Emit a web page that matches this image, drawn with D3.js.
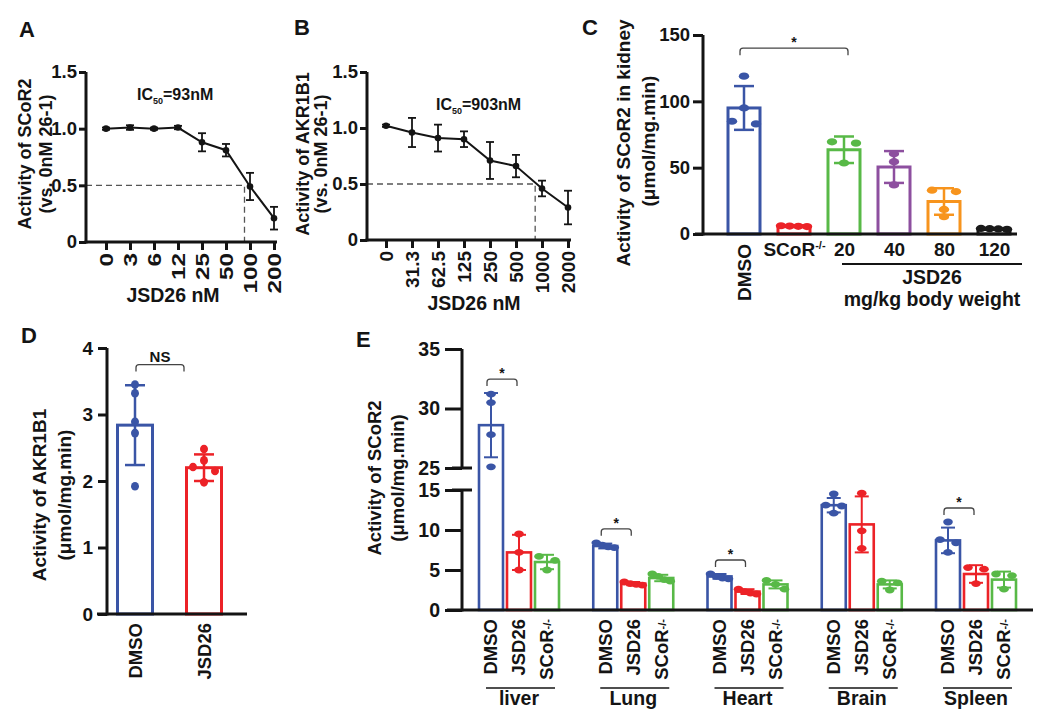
<!DOCTYPE html>
<html><head><meta charset="utf-8">
<script src="https://cdn.jsdelivr.net/npm/d3@7"></script>
<style>
body{margin:0;background:#fff;}
svg text{font-family:"Liberation Sans",Arial,Helvetica,sans-serif;font-weight:bold;}
</style></head><body>
<svg id="fig" width="1050" height="722"></svg>
<script>
// ---------- DATA ----------
// Panel A
const aDoses = ["0","3","6","12","25","50","100","200"];
const aMean  = [1.00,1.01,1.00,1.01,0.88,0.81,0.49,0.21];
const aErr   = [0.01,0.02,0.01,0.015,0.08,0.055,0.12,0.10];
const aIC50  = 93;
// Panel B
const bDoses = ["0","31.3","62.5","125","250","500","1000","2000"];
const bMean  = [1.02,0.96,0.91,0.90,0.71,0.66,0.46,0.29];
const bErr   = [0.01,0.13,0.12,0.07,0.165,0.10,0.07,0.15];
const bIC50  = 903;
const abTicks = [0,0.5,1.0,1.5];
// Panel C
const cGroups = ["DMSO","SCoR-/-","20","40","80","120"];
const cMean   = [95,5.9,63.5,50.5,24.5,3.6];
const cSD     = [16.5,0.5,10,12,10,0.4];
const cPoints = [[119,95,83,85],[6.2,6.0,5.6,5.8],[69.5,68.5,53.5],[60.5,54.5,37],[33,32,18.5,13],[4.0,4.2,3.5,3.8]];
const cTicks  = [0,50,100,150];
// Panel D
const dGroups = ["DMSO","JSD26"];
const dMean   = [2.84,2.20];
const dSD     = [0.60,0.20];
const dPoints = [[3.45,3.32,2.89,2.72,1.92],[2.48,2.31,2.21,2.15,1.98]];
const dTicks  = [0,1,2,3,4];
// Panel E
const eOrgans = ["liver","Lung","Heart","Brain","Spleen"];
const eConds  = ["DMSO","JSD26","SCoR-/-"];
const eMean   = [[28.6,7.2,6.0],[8.0,3.3,4.0],[4.2,2.3,3.2],[13.1,10.7,3.2],[8.7,4.5,3.8]];
const eSD     = [[2.7,2.2,0.9],[0.3,0.2,0.4],[0.3,0.3,0.5],[0.9,3.5,0.5],[1.6,1.1,1.0]];
const ePoints = [
  [[31.2,30.5,27.8,25.1],[9.5,7.2,5.0],[6.7,6.2,5.0]],
  [[8.4,8.1,7.9,7.8],[3.5,3.3,3.2,3.1],[4.5,4.2,3.8,3.6]],
  [[4.5,4.2,4.0,3.9],[2.6,2.3,2.1,2.0],[3.7,3.2,2.6]],
  [[14.5,13.1,13.0,12.1],[14.6,9.9,7.7],[3.6,3.4,2.5]],
  [[11.0,8.8,8.4,7.2],[5.3,5.1,3.3],[4.5,4.3,2.6]]
];
const eTicks = [0,5,10,15,25,30,35];
const eBreakTicks = [15,25];
const eSig = ["liver","Lung","Heart","Spleen"];

// ---------- STYLE ----------
const INK = "#141414";
const C = {blue:"#3a55a6", red:"#ec2227", green:"#58b947", purple:"#8d4f9f", orange:"#f7941d", black:"#1a1a1a"};
const cColors = [C.blue,C.red,C.green,C.purple,C.orange,C.black];
const dColors = [C.blue,C.red];
const eColors = [C.blue,C.red,C.green];
const TITLE = 19.5;

const svg = d3.select("#fig");

function styleAxis(a, fs){
  a.attr("font-family", null).attr("font-size", fs);
  a.selectAll("line").attr("stroke", INK).attr("stroke-width", 3);
  a.selectAll("text").attr("fill", INK);
  a.select(".domain").remove();
}
function line(g, x1, y1, x2, y2, w, col){
  return g.append("line").attr("x1",x1).attr("y1",y1).attr("x2",x2).attr("y2",y2)
    .attr("stroke", col||INK).attr("stroke-width", w);
}
function txt(g, x, y, s, fs, anchor){
  return g.append("text").attr("x",x).attr("y",y).attr("font-size",fs)
    .attr("text-anchor",anchor||"middle").attr("fill",INK).text(s);
}
function ylabel(g, x, cy, s, fs){
  return g.append("text").attr("transform",`translate(${x},${cy}) rotate(-90)`)
    .attr("text-anchor","middle").attr("dy","0.35em").attr("font-size",fs).attr("fill",INK).text(s);
}
function withSup(t, s, supSize, supDy){
  if (s.endsWith("-/-")){
    t.text(null);
    t.append("tspan").text(s.slice(0,-3));
    t.append("tspan").attr("font-size",supSize).attr("dy",supDy).text("-/-");
  }
}
function bracket(g, x1, x2, y, label, fs, bold){
  g.append("path").attr("d",`M${x1},${y+7} L${x1},${y+3} Q${x1},${y} ${x1+3},${y} L${x2-3},${y} Q${x2},${y} ${x2},${y+3} L${x2},${y+7}`)
    .attr("fill","none").attr("stroke","#444").attr("stroke-width",1.3);
  const t = txt(g, (x1+x2)/2, y + (bold ? -3 : -1), label, fs);
  if (!bold) t.attr("font-weight","normal");
}
function swarm(vals, y, bw, maxSp, thr){
  const idx = vals.map((v,i)=>i).sort((a,b)=>y(vals[a])-y(vals[b]));
  const off = vals.map(()=>0);
  const groups = []; let cur = [idx[0]];
  for (let k=1;k<idx.length;k++){
    if (Math.abs(y(vals[idx[k]]) - y(vals[cur[cur.length-1]])) < thr) cur.push(idx[k]);
    else { groups.push(cur); cur=[idx[k]]; }
  }
  groups.push(cur);
  groups.forEach(gr=>{
    const n = gr.length; if (n<2) return;
    const sp = Math.min(maxSp, (bw-6)/(n-1));
    gr.forEach((j,k)=>{ off[j] = (k-(n-1)/2)*sp; });
  });
  return off;
}
function bars(g, items, y, o){
  items.forEach(it=>{
    g.append("rect").attr("x", it.x - o.bw/2).attr("y", y(it.mean))
      .attr("width", o.bw).attr("height", y(0) - y(it.mean))
      .attr("fill","none").attr("stroke", it.color).attr("stroke-width", o.sw);
    line(g, it.x, y(it.mean - it.sd), it.x, y(it.mean + it.sd), o.ew, it.color);
    line(g, it.x - o.cap/2, y(it.mean + it.sd), it.x + o.cap/2, y(it.mean + it.sd), o.ew, it.color);
    line(g, it.x - o.cap/2, y(it.mean - it.sd), it.x + o.cap/2, y(it.mean - it.sd), o.ew, it.color);
    const off = swarm(it.pts, y, o.bw, o.maxSp, o.thr);
    it.pts.forEach((v,i)=>{
      g.append("ellipse").attr("cx", it.x + off[i]).attr("cy", y(v))
        .attr("rx", o.rx).attr("ry", o.ry).attr("fill", it.color);
    });
  });
}

// ---------- PANELS A & B ----------
function curvePanel(o){
  const g = svg.append("g");
  const y = d3.scaleLinear().domain([0,1.5]).range([o.y0, o.y1]);
  const x = d3.scalePoint().domain(o.doses).range(o.xr);
  // dashed IC50 guide
  const nums = o.doses.map(Number);
  let i = 0; while (i < nums.length-2 && nums[i+1] < o.ic50) i++;
  const t = Math.log(o.ic50/nums[i]) / Math.log(nums[i+1]/nums[i]);
  const xi = x(o.doses[i]) + t*(x(o.doses[i+1]) - x(o.doses[i])) - 3;
  g.append("path").attr("d",`M${o.ax},${y(0.5)} H${xi} V${y(0)}`)
    .attr("fill","none").attr("stroke","#555").attr("stroke-width",1.3).attr("stroke-dasharray","6,4");
  // curve
  g.append("path").datum(o.mean)
    .attr("d", d3.line().x((d,k)=>x(o.doses[k])).y(d=>y(d)))
    .attr("fill","none").attr("stroke",INK).attr("stroke-width",2);
  o.mean.forEach((m,k)=>{
    const xx = x(o.doses[k]), e = o.err[k];
    line(g, xx, y(m-e), xx, y(m+e), 1.8);
    line(g, xx-4, y(m-e), xx+4, y(m-e), 1.8);
    line(g, xx-4, y(m+e), xx+4, y(m+e), 1.8);
    g.append("circle").attr("cx",xx).attr("cy",y(m)).attr("r",3.3).attr("fill",INK);
  });
  // axes
  g.append("g").attr("transform",`translate(${o.ax},0)`)
    .call(d3.axisLeft(y).tickValues(abTicks).tickFormat(d=> d===0 ? "0" : d3.format(".1f")(d)).tickSize(7).tickPadding(2))
    .call(a=>styleAxis(a,18.5));
  g.append("g").attr("transform",`translate(0,${o.y0})`)
    .call(d3.axisBottom(x).tickSize(8))
    .call(a=>styleAxis(a,o.tfs))
    .call(a=>a.selectAll("text").attr("transform",`rotate(-90) scale(${o.stretch},1)`).attr("x",-11/o.stretch).attr("y",0)
      .attr("dy","0.35em").attr("text-anchor","end"));
  line(g, o.ax, y(0)+1.5, o.ax, y(1.5), 3);
  line(g, o.ax-1.5, y(0), x(o.doses[o.doses.length-1])+3, y(0), 3);
  // IC50 text
  const it = g.append("text").attr("x",o.icx).attr("y",o.icy).attr("font-size",16).attr("fill",INK);
  it.append("tspan").text("IC");
  it.append("tspan").attr("font-size",9).attr("dy",4).text("50");
  it.append("tspan").attr("dy",-4).text(o.icText);
  // titles
  txt(g, o.xtx, o.xty, "JSD26 nM", TITLE);
  ylabel(g, o.yl1, 154, o.ylab, 18);
  ylabel(g, o.yl2, 154, "(vs. 0nM 26-1)", 18);
  txt(g, o.lx, o.ly, o.letter, 22, "start");
}
curvePanel({doses:aDoses, mean:aMean, err:aErr, ic50:aIC50, y0:242, y1:72, xr:[106,274], ax:86,
  icx:137, icy:100, icText:"=93nM", xtx:173, xty:302, yl1:25, yl2:46, ylab:"Activity of SCoR2",
  letter:"A", lx:19, ly:37, tfs:18, stretch:1.35});
curvePanel({doses:bDoses, mean:bMean, err:bErr, ic50:bIC50, y0:240, y1:72, xr:[386,568], ax:367,
  icx:436, icy:110, icText:"=903nM", xtx:474, xty:310, yl1:303, yl2:321, ylab:"Activity of AKR1B1",
  letter:"B", lx:294, ly:35, tfs:19, stretch:1.0});

// ---------- PANEL C ----------
(function(){
  const g = svg.append("g");
  const y = d3.scaleLinear().domain([0,150]).range([234,35]);
  const x = d3.scalePoint().domain(cGroups).range([744,994]);
  const items = cGroups.map((c,i)=>({x:x(c), mean:cMean[i], sd:cSD[i], pts:cPoints[i], color:cColors[i]}));
  bars(g, items, y, {bw:32, sw:3, ew:2.5, cap:20, rx:5.2, ry:3.6, maxSp:24, thr:5});
  g.append("g").attr("transform","translate(703,0)")
    .call(d3.axisLeft(y).tickValues(cTicks).tickSize(10).tickPadding(3))
    .call(a=>styleAxis(a,18.5));
  line(g, 703, y(0)+1.5, 703, y(150), 3);
  line(g, 695, y(0), x("120")+23, y(0), 3);
  g.append("g").attr("transform",`translate(0,${y(0)})`)
    .call(d3.axisBottom(x).tickSize(0))
    .call(a=>styleAxis(a,19))
    .call(a=>a.selectAll("text").each(function(d){
      const t = d3.select(this);
      if (d === "DMSO") t.attr("transform","rotate(-90)").attr("x",-10).attr("y",0).attr("dy","0.35em").attr("text-anchor","end");
      else { t.attr("y",9).attr("dy","0.71em"); withSup(t, d, 11, -7); }
    }));
  line(g, x("20")-2, 264, x("120")+28, 264, 2);
  const mid = (x("20")-2 + x("120")+28)/2;
  txt(g, mid, 284, "JSD26", TITLE);
  txt(g, mid, 306, "mg/kg body weight", TITLE);
  bracket(g, x("DMSO")-4, x("20")+4, y(d3.max(cPoints[0]))-28, "*", 14, false);
  ylabel(g, 623, 143, "Activity of SCoR2 in kidney", 19);
  ylabel(g, 648, 141, "(\u03bcmol/mg.min)", 19);
  txt(g, 582, 35, "C", 22, "start");
})();

// ---------- PANEL D ----------
(function(){
  const g = svg.append("g");
  const y = d3.scaleLinear().domain([0,4]).range([614,348]);
  const x = d3.scalePoint().domain(dGroups).range([135,204]);
  const items = dGroups.map((c,i)=>({x:x(c), mean:dMean[i], sd:dSD[i], pts:dPoints[i], color:dColors[i]}));
  bars(g, items, y, {bw:35, sw:3, ew:2.5, cap:20, rx:4, ry:4.3, maxSp:22, thr:5});
  g.append("g").attr("transform","translate(107,0)")
    .call(d3.axisLeft(y).tickValues(dTicks).tickFormat(d3.format("d")).tickSize(9).tickPadding(5))
    .call(a=>styleAxis(a,19));
  line(g, 107, y(0)+1.5, 107, y(4), 3);
  line(g, 97, y(0), 247, y(0), 3);
  g.append("g").attr("transform",`translate(0,${y(0)})`)
    .call(d3.axisBottom(x).tickSize(0))
    .call(a=>styleAxis(a,18.5))
    .call(a=>a.selectAll("text").attr("transform","rotate(-90)").attr("x",-9).attr("y",0)
      .attr("dy","0.35em").attr("text-anchor","end"));
  const top = y(d3.max([dMean[0]+dSD[0], ...dPoints[0]])) - 20;
  bracket(g, x("DMSO")+1, x("JSD26")-20, top, "NS", 15, true);
  ylabel(g, 39, 495, "Activity of AKR1B1", 19);
  ylabel(g, 64, 495, "(\u03bcmol/mg.min)", 19);
  txt(g, 21, 343, "D", 22, "start");
})();

// ---------- PANEL E ----------
(function(){
  const g = svg.append("g");
  const y = d3.scaleLinear().domain([0,15,25,35]).range([610,490,468,349]);
  const xo = d3.scalePoint().domain(eOrgans).range([519,976]);
  const xi = d3.scalePoint().domain(eConds).range([-28,28]);
  const items = [];
  eOrgans.forEach((org,i)=>eConds.forEach((c,j)=>items.push({
    x: xo(org)+xi(c), mean:eMean[i][j], sd:eSD[i][j], pts:ePoints[i][j], color:eColors[j]})));
  bars(g, items, y, {bw:24, sw:2.6, ew:2, cap:14, rx:4.8, ry:3.4, maxSp:16, thr:5});
  g.append("g").attr("transform","translate(462,0)")
    .call(d3.axisLeft(y).tickValues(eTicks).tickSize(17).tickPadding(5))
    .call(a=>styleAxis(a,19.5));
  line(g, 462, y(25), 462, y(35), 3);
  line(g, 462, y(0)+1.5, 462, y(15), 3);
  eBreakTicks.forEach(v=>line(g, 452, y(v), 472, y(v), 3));
  line(g, 447, y(0), 1033, y(0), 3);
  // x labels
  eOrgans.forEach(org=>{
    eConds.forEach(c=>{
      const t = g.append("text").attr("transform",`translate(${xo(org)+xi(c)},${y(0)+9}) rotate(-90)`)
        .attr("text-anchor","end").attr("dy","0.35em").attr("font-size",18.5).attr("fill",INK).text(c);
      withSup(t, c, 11, -2);
    });
    line(g, xo(org)+xi("DMSO")-5, 688, xo(org)+xi("SCoR-/-")+8, 688, 1.6);
    txt(g, xo(org), 705, org, 19.5);
  });
  // significance brackets
  eSig.forEach(org=>{
    const i = eOrgans.indexOf(org);
    const mx = d3.max([0,1].flatMap(j=>[eMean[i][j]+eSD[i][j], ...ePoints[i][j]]));
    bracket(g, xo(org)+xi("DMSO")-4, xo(org)+xi("JSD26")-2, y(mx)-14, "*", 14, false);
  });
  ylabel(g, 375, 478, "Activity of SCoR2", 18.5);
  ylabel(g, 398, 478, "(\u03bcmol/mg.min)", 18.5);
  txt(g, 356, 347, "E", 22, "start");
})();
</script>
</body></html>
